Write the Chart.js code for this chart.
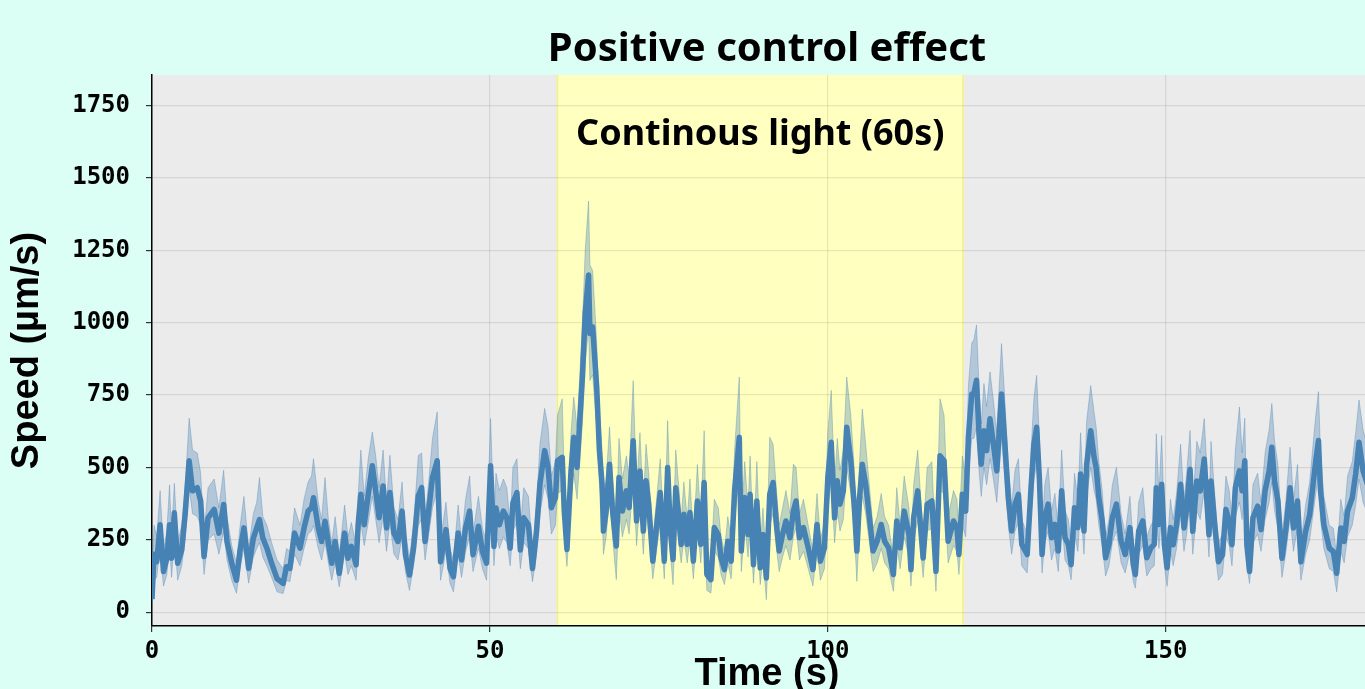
<!DOCTYPE html>
<html>
<head>
<meta charset="utf-8">
<title>Positive control effect</title>
<script src="https://cdn.jsdelivr.net/npm/chart.js@4.4.1/dist/chart.umd.min.js"></script>
<style>
  html, body { margin: 0; padding: 0; overflow: hidden; background: #dbfff4; }
  #wrap { width: 1382px; height: 689px; }
</style>
</head>
<body>
<div id="wrap"><canvas id="speedChart" width="1382" height="689"></canvas></div>
<script>
// time (s) of each sample
const timeS = [
  0, 0.3, 0.7, 1.2, 1.7, 2.2, 2.6, 2.9, 3.3, 3.8, 4.4, 4.9, 5.5, 6.0, 6.7, 7.2, 7.7, 8.3, 9.2, 9.9,
  10.6, 11.1, 11.8, 12.5, 13.0, 13.6, 14.3, 15.0, 15.5, 15.9, 16.4, 17.0, 17.7, 18.5, 19.4, 19.9, 20.4, 21.1, 21.9, 22.5,
  23.1, 23.6, 23.9, 24.6, 25.1, 25.6, 26.1, 26.6, 27.1, 27.7,
  28.5, 29.0, 29.5, 30.2, 30.5, 30.9, 31.4, 32.0, 32.6, 33.1, 33.6, 34.2, 34.7, 35.2, 35.8, 36.4, 37.0, 37.5, 38.1, 38.7,
  39.4, 39.9, 40.4, 40.9, 41.5, 42.2, 42.7, 43.5, 44.1, 44.6, 45.3, 45.8, 46.4, 47.0, 47.5, 48.3, 48.9, 49.5, 50.1, 50.6,
  50.9, 51.4, 52.0, 52.5, 53.0, 53.4, 54.0, 54.5, 55.0, 55.7, 56.3, 56.9, 57.4,
  58.1, 58.6, 59.1, 59.7, 60.0, 60.7, 61.0, 61.4, 62.0, 62.4, 62.9, 63.3, 63.7, 64.1, 64.6, 64.8, 65.2, 65.5, 65.8, 66.2,
  66.6, 66.8, 67.2, 67.7, 68.1, 68.7, 69.1, 69.6, 70.2, 70.6, 71.2, 71.7, 72.2, 72.7, 73.1, 73.5, 74.1, 74.7, 75.2, 75.8,
  76.3, 76.7, 77.1, 77.5, 78.0, 78.3, 78.7, 79.2, 79.6, 80.1, 80.7, 81.2, 81.7, 82.1, 82.7, 83.2, 83.8, 84.2, 84.7, 85.2,
  85.7, 86.2, 86.9,
  87.2, 87.7, 88.2, 88.5, 89.0, 89.5, 90.0, 90.4, 90.9, 91.4, 91.9, 92.4, 92.8, 93.3, 93.8, 94.4, 94.9, 95.3, 95.8, 96.4,
  97.1, 97.8, 98.4, 98.9, 99.5, 100.0, 100.5, 101.0, 101.4, 101.8, 102.3, 102.8, 103.4, 103.9, 104.3, 104.7, 105.1, 105.6, 106.1, 106.7,
  107.3, 107.9, 108.4, 109.0, 109.7, 110.2, 110.7, 111.3, 112.0, 112.3, 112.7, 113.3, 114.1, 114.7, 115.4, 116.0, 116.6, 117.2, 117.8, 118.6,
  119.1, 119.4, 119.9, 120.4,
  120.8, 121.3, 121.6, 122.0, 122.4, 122.7, 123.1, 123.5, 124.0, 124.5, 125.0, 125.7, 126.2, 126.7, 127.2, 127.7, 128.2, 128.7, 129.5, 130.1,
  130.5, 130.9, 131.3, 131.7, 132.1, 132.6, 133.1, 133.6, 134.1, 134.6, 135.1, 135.6, 136.0, 136.5, 137.0, 137.4, 137.9, 138.3, 138.9, 139.4,
  139.7, 140.1, 140.6, 141.1, 141.6, 142.1, 142.7, 143.4, 144.0, 144.7, 145.2, 145.5, 146.0, 146.6, 147.2, 147.8, 148.3, 148.6, 149.0, 149.4,
  149.8, 150.2,
  150.7, 151.1, 151.6, 152.2, 152.7, 153.1, 153.6, 154.0, 154.6, 155.1, 155.7, 156.4, 156.7, 157.2, 157.8, 158.4, 158.9, 159.4, 159.8, 160.3,
  160.9, 161.3, 161.7, 162.0, 162.4, 162.9, 163.6, 164.1, 164.7, 165.3, 165.7, 166.1, 166.6, 167.2, 167.8, 168.4, 168.9, 169.5, 170.0, 170.7,
  171.3, 171.8, 172.2, 172.6, 172.9, 173.4, 174.2, 174.8, 175.3, 175.9, 176.4, 176.9, 177.6, 178.1, 178.6, 179.2, 180.0
];

// mean speed (um/s)
const speedMean = [
  45, 200, 174, 302, 140, 186, 302, 186, 343, 169, 215, 337, 523, 419, 430, 384, 192, 326, 355, 273,
  372, 244, 169, 110, 209, 291, 151, 256, 291, 320, 256, 221, 169, 116, 99, 157, 151, 273, 221, 291,
  349, 360, 395, 291, 244, 314, 238, 169, 244, 134,
  273, 186, 227, 163, 302, 407, 302, 407, 506, 419, 326, 436, 291, 413, 273, 244, 349, 198, 128, 221,
  401, 430, 244, 343, 465, 523, 174, 285, 151, 122, 273, 180, 291, 349, 198, 297, 209, 169, 506, 227,
  360, 302, 349, 326, 221, 378, 413, 215, 326, 302, 151, 279, 442,
  558, 500, 361, 396, 523, 535, 349, 216, 488, 604, 500, 662, 818, 1032, 1165, 963, 986, 882, 778, 558,
  442, 280, 349, 511, 361, 228, 465, 349, 419, 361, 592, 315, 488, 280, 454, 373, 176, 303, 413, 176,
  500, 280, 182, 430, 315, 234, 338, 234, 344, 176, 384, 234, 448, 130, 112, 292, 268, 187, 147, 245,
  176, 419, 604,
  211, 396, 268, 407, 164, 384, 153, 268, 118, 407, 448, 303, 211, 268, 315, 257, 349, 384, 257, 292,
  222, 147, 303, 176, 222, 465, 587, 326, 454, 373, 419, 639, 523, 373, 211, 396, 511, 442, 338, 211,
  245, 303, 245, 222, 130, 315, 222, 349, 268, 147, 326, 419, 187, 373, 384, 141, 540, 523, 245, 315,
  292, 199, 407, 349,
  604, 754, 754, 801, 604, 511, 627, 558, 668, 581, 488, 754, 581, 396, 280, 373, 407, 234, 199, 442,
  581, 639, 465, 199, 326, 373, 257, 303, 211, 419, 257, 234, 164, 361, 292, 477, 280, 511, 627, 535,
  500, 396, 315, 188, 234, 326, 373, 245, 199, 292, 164, 130, 280, 315, 188, 222, 234, 430, 303, 442,
  234, 153,
  292, 233, 302, 442, 291, 360, 494, 279, 453, 419, 529, 267, 453, 314, 174, 198, 355, 314, 233, 430,
  488, 419, 523, 233, 140, 326, 366, 285, 419, 488, 570, 453, 384, 186, 291, 430, 291, 384, 174, 279,
  337, 442, 523, 593, 419, 302, 221, 209, 134, 291, 244, 349, 395, 477, 587, 488, 430
];

// upper edge of the shaded band
const speedUpper = [
  150, 300, 260, 420, 210, 280, 440, 260, 445, 240, 300, 430, 670, 560, 550, 480, 270, 430, 460, 360,
  490, 330, 230, 170, 290, 400, 220, 340, 380, 465, 330, 300, 240, 180, 150, 220, 210, 360, 300, 390,
  450, 470, 530, 380, 320, 465, 320, 240, 330, 200,
  370, 260, 310, 230, 400, 560, 400, 530, 622, 540, 430, 560, 380, 542, 360, 320, 450, 270, 190, 300,
  541, 550, 320, 440, 600, 692, 250, 380, 220, 180, 370, 250, 390, 470, 270, 400, 290, 240, 669, 320,
  480, 420, 460, 430, 300, 500, 530, 290, 430, 400, 210, 370, 580,
  704, 640, 470, 520, 680, 737, 460, 300, 620, 743, 640, 820, 1000, 1250, 1420, 1200, 1180, 1060, 930, 680,
  560, 380, 460, 640, 470, 310, 600, 460, 540, 470, 800, 420, 620, 370, 580, 480, 250, 400, 530, 250,
  662, 380, 260, 560, 420, 320, 450, 320, 460, 250, 510, 320, 627, 190, 170, 390, 360, 260, 210, 330,
  250, 560, 812,
  300, 520, 360, 540, 240, 520, 220, 360, 180, 604, 580, 420, 300, 360, 420, 340, 511, 500, 340, 390,
  300, 210, 410, 250, 310, 620, 766, 440, 600, 490, 560, 812, 680, 500, 300, 520, 702, 580, 450, 290,
  330, 410, 330, 300, 190, 430, 300, 470, 360, 210, 440, 560, 260, 500, 520, 200, 737, 680, 330, 420,
  390, 280, 540, 470,
  780, 930, 940, 992, 760, 650, 790, 710, 830, 730, 620, 928, 730, 510, 370, 490, 530, 320, 270, 570,
  740, 818, 600, 280, 440, 500, 350, 410, 290, 560, 350, 320, 230, 480, 390, 620, 380, 660, 783, 690,
  640, 520, 420, 260, 320, 440, 500, 340, 270, 400, 230, 190, 380, 430, 260, 300, 320, 616, 410, 610,
  320, 220,
  390, 320, 410, 580, 390, 480, 628, 370, 590, 550, 669, 360, 590, 420, 240, 270, 470, 420, 320, 560,
  709, 550, 670, 320, 200, 440, 480, 380, 550, 630, 721, 590, 510, 260, 390, 570, 390, 510, 240, 370,
  450, 580, 680, 762, 550, 400, 300, 290, 190, 390, 330, 470, 520, 620, 733, 630, 560
];

// lower edge of the shaded band
const speedLower = [
  20, 110, 120, 220, 90, 130, 230, 120, 260, 110, 160, 250, 430, 340, 330, 300, 130, 250, 270, 200,
  280, 180, 110, 65, 150, 220, 100, 190, 220, 240, 190, 160, 120, 70, 64, 110, 105, 200, 160, 220,
  270, 280, 300, 220, 180, 240, 170, 110, 170, 87,
  200, 130, 160, 110, 220, 310, 230, 310, 400, 320, 240, 330, 210, 310, 200, 180, 260, 140, 75, 160,
  300, 320, 180, 260, 360, 420, 110, 210, 100, 70, 200, 120, 210, 260, 140, 220, 150, 110, 400, 160,
  270, 220, 260, 240, 160, 280, 310, 150, 240, 220, 105, 200, 340,
  440, 390, 270, 300, 410, 420, 260, 158, 380, 480, 390, 530, 660, 860, 980, 800, 820, 730, 640, 440,
  340, 200, 260, 400, 270, 112, 360, 260, 320, 270, 460, 230, 380, 200, 350, 280, 115, 220, 310, 115,
  390, 200, 95, 330, 230, 170, 250, 170, 250, 115, 290, 170, 340, 75, 66, 210, 190, 130, 95, 170,
  115, 310, 470,
  140, 300, 190, 310, 100, 290, 95, 190, 43, 300, 340, 220, 140, 190, 230, 180, 260, 290, 180, 210,
  150, 90, 220, 110, 150, 350, 460, 240, 350, 280, 320, 500, 410, 280, 106, 300, 400, 340, 250, 140,
  170, 220, 170, 150, 72, 230, 150, 260, 190, 90, 240, 320, 120, 280, 290, 72, 420, 410, 170, 230,
  210, 130, 300, 260,
  470, 600, 600, 640, 480, 400, 500, 440, 530, 460, 380, 600, 460, 300, 200, 280, 310, 160, 135, 340,
  460, 510, 360, 135, 240, 280, 180, 220, 140, 320, 180, 160, 112, 270, 210, 370, 200, 400, 500, 420,
  390, 300, 230, 125, 160, 240, 280, 170, 135, 210, 105, 83, 200, 230, 125, 150, 160, 320, 220, 340,
  160, 89,
  210, 160, 220, 340, 210, 270, 390, 200, 350, 320, 420, 190, 350, 230, 110, 130, 260, 230, 160, 330,
  380, 320, 410, 160, 99, 240, 270, 210, 320, 380, 450, 350, 290, 120, 210, 330, 210, 290, 110, 200,
  250, 340, 410, 470, 320, 220, 150, 140, 70, 210, 170, 260, 300, 370, 460, 380, 330
];

const xTicks = [0, 50, 100, 150];
const yTicks = [0, 250, 500, 750, 1000, 1250, 1500, 1750];
const lightStart = 60;
const lightEnd = 120;
const lightLabel = "Continous light (60s)";

const toPoints = arr => arr.map((v, i) => ({ x: timeS[i], y: v }));

// plot background + light period band (drawn under the grid)
const backdrop = {
  id: "backdrop",
  beforeDraw(chart) {
    const { ctx, chartArea: a, scales: { x } } = chart;
    ctx.save();
    ctx.fillStyle = "#ebebeb";
    ctx.fillRect(a.left, a.top, a.right - a.left, a.bottom - a.top);
    const x0 = x.getPixelForValue(lightStart);
    const x1 = x.getPixelForValue(lightEnd);
    ctx.fillStyle = "#ffffc0";
    ctx.fillRect(x0, a.top, x1 - x0, a.bottom - a.top);
    ctx.strokeStyle = "#f2f28a";
    ctx.lineWidth = 1.5;
    ctx.beginPath();
    ctx.moveTo(x0, a.top); ctx.lineTo(x0, a.bottom);
    ctx.moveTo(x1, a.top); ctx.lineTo(x1, a.bottom);
    ctx.stroke();
    ctx.restore();
  },
  afterDraw(chart) {
    const { ctx, scales: { x, y } } = chart;
    ctx.save();
    ctx.font = "bold 36px 'Noto Sans'";
    ctx.fillStyle = "#000";
    ctx.textAlign = "center";
    ctx.textBaseline = "middle";
    ctx.fillText(lightLabel, x.getPixelForValue((lightStart + lightEnd) / 2), y.getPixelForValue(1650));
    ctx.restore();
  }
};

const tickFont = { family: "'DejaVu Sans Mono'", size: 24, weight: "bold" };
const axisTitleFont = { family: "'Liberation Sans', Arial", size: 38, weight: "bold", lineHeight: 0.9 };

new Chart(document.getElementById("speedChart"), {
  type: "line",
  data: {
    datasets: [
      {
        label: "lower",
        data: toPoints(speedLower),
        borderColor: "rgba(70,130,180,0.35)",
        borderWidth: 1,
        pointRadius: 0,
        fill: false,
        order: 2
      },
      {
        label: "upper",
        data: toPoints(speedUpper),
        borderColor: "rgba(70,130,180,0.35)",
        borderWidth: 1,
        backgroundColor: "rgba(70,130,180,0.34)",
        pointRadius: 0,
        fill: "-1",
        order: 1
      },
      {
        label: "mean",
        data: toPoints(speedMean),
        borderColor: "#4682b4",
        borderWidth: 5.5,
        borderJoinStyle: "round",
        pointRadius: 0,
        fill: false,
        order: 0
      }
    ]
  },
  options: {
    responsive: false,
    animation: false,
    devicePixelRatio: 1,
    layout: { padding: 0 },
    plugins: {
      legend: { display: false },
      tooltip: { enabled: false },
      title: {
        display: true,
        text: "Positive control effect",
        fullSize: false,
        color: "#000",
        font: { family: "'Noto Sans'", size: 40, weight: "bold", lineHeight: 1.2 },
        padding: { top: 26, bottom: 1 }
      }
    },
    scales: {
      x: {
        type: "linear",
        min: 0,
        max: 182,
        afterFit(scale) { scale.height = 63; },
        afterBuildTicks(scale) { scale.ticks = xTicks.map(v => ({ value: v })); },
        ticks: { color: "#000", font: tickFont, padding: 5, maxRotation: 0, callback: v => String(v) },
        grid: { color: "rgba(0,0,0,0.09)", lineWidth: 1.2, tickLength: 6, tickColor: "#333" },
        border: { color: "#000", width: 1.5 },
        title: { display: true, text: "Time (s)", color: "#000", font: axisTitleFont, padding: { top: 0, bottom: -3 } }
      },
      y: {
        min: -48,
        max: 1856,
        afterFit(scale) { scale.width = 152; },
        afterBuildTicks(scale) { scale.ticks = yTicks.map(v => ({ value: v })); },
        ticks: { color: "#000", font: tickFont, padding: 16, callback: v => String(v) },
        grid: { color: "rgba(0,0,0,0.09)", lineWidth: 1.2, tickLength: 6, tickColor: "#333" },
        border: { color: "#000", width: 1.5 },
        title: { display: true, text: "Speed (µm/s)", color: "#000", font: axisTitleFont, padding: { top: 10, bottom: 0 } }
      }
    }
  },
  plugins: [backdrop]
});
</script>
</body>
</html>
